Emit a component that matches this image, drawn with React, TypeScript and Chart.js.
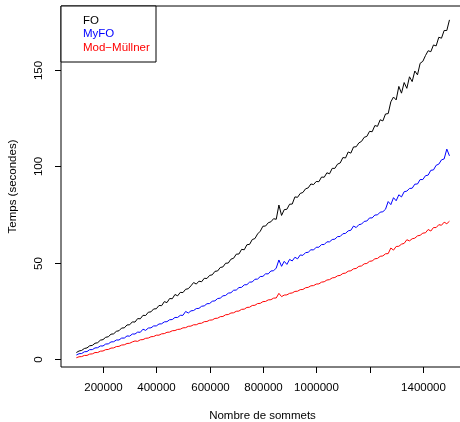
import React, { useEffect, useRef } from "react";
import { Chart, registerables } from "chart.js";

Chart.register(...registerables);

const sommets = [
  100000, 110000, 120000, 130000, 140000, 150000, 160000, 170000, 180000, 190000,
  200000, 210000, 220000, 230000, 240000, 250000, 260000, 270000, 280000, 290000,
  300000, 310000, 320000, 330000, 340000, 350000, 360000, 370000, 380000, 390000,
  400000, 410000, 420000, 430000, 440000, 450000, 460000, 470000, 480000, 490000,
  500000, 510000, 520000, 530000, 540000, 550000, 560000, 570000, 580000, 590000,
  600000, 610000, 620000, 630000, 640000, 650000, 660000, 670000, 680000, 690000,
  700000, 710000, 720000, 730000, 740000, 750000, 760000, 770000, 780000, 790000,
  800000, 810000, 820000, 830000, 840000, 850000, 860000, 870000, 880000, 890000,
  900000, 910000, 920000, 930000, 940000, 950000, 960000, 970000, 980000, 990000,
  1000000, 1010000, 1020000, 1030000, 1040000, 1050000, 1060000, 1070000, 1080000, 1090000,
  1100000, 1110000, 1120000, 1130000, 1140000, 1150000, 1160000, 1170000, 1180000, 1190000,
  1200000, 1210000, 1220000, 1230000, 1240000, 1250000, 1260000, 1270000, 1280000, 1290000,
  1300000, 1310000, 1320000, 1330000, 1340000, 1350000, 1360000, 1370000, 1380000, 1390000,
  1400000, 1410000, 1420000, 1430000, 1440000, 1450000, 1460000, 1470000, 1480000, 1490000,
  1500000,
];

const tempsFO = [
  3.5, 4.3, 4.6, 5.6, 5.9, 7.0, 7.2, 8.3, 8.6, 9.9,
  10.2, 11.4, 11.7, 13.0, 13.2, 14.5, 14.8, 16.2, 16.3, 17.8,
  17.9, 19.4, 19.3, 21.1, 21.0, 22.8, 22.7, 24.4, 24.6, 26.1,
  26.2, 27.9, 27.8, 29.9, 29.4, 31.5, 31.4, 33.6, 32.9, 34.7,
  34.6, 36.3, 36.6, 38.1, 39.8, 39.0, 40.5, 40.2, 42.0, 41.9,
  43.5, 43.8, 45.6, 45.8, 47.6, 47.9, 49.8, 49.9, 51.9, 52.4,
  54.5, 54.6, 57.0, 56.8, 59.4, 59.6, 62.1, 62.6, 65.0, 66.4,
  69.0, 69.1, 70.8, 71.3, 72.9, 72.6, 80.0, 74.6, 77.6, 77.8,
  80.4, 80.5, 84.2, 84.0, 86.0, 86.5, 88.4, 88.9, 90.9, 90.6,
  92.2, 92.1, 94.5, 94.4, 96.7, 96.2, 99.0, 99.0, 101.2, 101.8,
  104.6, 104.4, 107.5, 106.9, 110.1, 110.2, 112.2, 113.0, 115.1, 115.6,
  118.2, 118.0, 121.2, 120.8, 124.2, 123.6, 127.2, 127.4, 133.5, 136.0,
  134.5, 141.5, 138.0, 143.5, 140.5, 146.5, 144.0, 149.5, 147.5, 153.5,
  154.5, 157.5, 160.0, 159.5, 163.0, 162.5, 167.0, 166.5, 170.5, 170.5,
  176.0,
];

const tempsMyFO = [
  2.2, 2.9, 3.0, 3.9, 4.0, 5.0, 5.0, 5.9, 6.0, 6.9,
  6.9, 7.9, 8.0, 9.0, 9.1, 10.0, 10.0, 11.0, 11.0, 12.1,
  12.0, 13.1, 13.1, 14.1, 14.0, 15.6, 15.0, 16.2, 16.3, 17.3,
  17.3, 18.3, 18.4, 19.4, 19.5, 20.5, 20.6, 21.7, 21.7, 22.8,
  22.8, 24.8, 24.0, 25.1, 25.3, 26.3, 26.4, 27.5, 27.7, 28.8,
  28.9, 30.1, 30.3, 31.5, 31.7, 32.9, 33.1, 34.3, 34.5, 35.8,
  35.9, 37.2, 37.3, 38.6, 38.7, 40.0, 40.1, 41.5, 41.6, 42.9,
  43.0, 44.3, 44.3, 45.8, 45.9, 47.3, 51.5, 48.2, 50.8, 49.2,
  51.8, 51.0, 52.9, 52.1, 54.1, 53.9, 55.3, 55.5, 56.8, 56.7,
  58.1, 58.1, 59.5, 59.5, 60.9, 60.9, 62.1, 62.3, 63.6, 63.7,
  65.1, 65.3, 66.6, 66.9, 69.1, 68.3, 69.8, 70.1, 71.5, 71.7,
  73.3, 73.3, 74.8, 74.9, 76.3, 76.5, 77.8, 81.8, 80.2, 83.8,
  82.2, 85.3, 84.2, 86.9, 87.2, 88.6, 88.7, 90.8, 90.9, 93.2,
  93.2, 95.2, 95.5, 98.0, 98.2, 100.6, 101.2, 103.4, 103.9, 109.0,
  105.5,
];

const tempsModMullner = [
  0.8, 1.3, 1.4, 2.0, 2.0, 2.7, 2.8, 3.5, 3.5, 4.2,
  4.3, 5.0, 5.1, 5.8, 5.9, 6.6, 6.7, 7.4, 7.5, 8.2,
  8.3, 9.0, 9.5, 9.3, 10.1, 10.2, 10.9, 11.0, 11.7, 11.8,
  12.5, 12.5, 13.2, 13.3, 14.0, 14.1, 14.8, 14.9, 15.5, 15.6,
  16.3, 16.4, 17.1, 17.2, 17.9, 17.9, 18.6, 18.7, 19.5, 19.6,
  20.3, 20.4, 21.2, 21.3, 22.1, 22.2, 23.1, 23.2, 24.0, 24.1,
  24.9, 25.0, 25.9, 26.0, 26.9, 27.0, 27.9, 28.0, 28.9, 29.0,
  29.9, 30.0, 30.8, 30.9, 31.7, 31.8, 34.2, 32.5, 33.3, 33.4,
  34.2, 34.4, 35.2, 35.3, 36.1, 36.2, 37.1, 37.3, 38.1, 38.2,
  39.0, 39.1, 40.0, 40.2, 41.1, 41.3, 42.2, 42.4, 43.3, 43.5,
  44.5, 44.7, 45.7, 45.9, 46.9, 47.1, 48.2, 48.4, 49.5, 49.7,
  50.8, 51.0, 52.1, 52.3, 53.4, 53.6, 54.7, 54.8, 57.7, 56.6,
  58.5, 58.6, 59.7, 60.1, 62.0, 61.4, 62.5, 62.8, 64.0, 64.3,
  65.4, 65.6, 67.3, 66.5, 68.3, 68.3, 69.8, 69.5, 71.1, 70.3,
  71.6,
];

const seriesNames = ["FO", "MyFO", "Mod\u2212Müllner"];
const seriesColors = ["#000000", "#0000FF", "#FF0000"];
const xTicks = [200000, 400000, 600000, 800000, 1000000, 1200000, 1400000];
const xTickLabels = ["200000", "400000", "600000", "800000", "1000000", "", "1400000"];
const yTicks = [0, 50, 100, 150];
const yTickLabels = ["0", "50", "100", "150"];
const xTitle = "Nombre de sommets";
const yTitle = "Temps (secondes)";

const FONT = '11.5px "Liberation Sans", Arial, Helvetica, sans-serif';

const rPlot = {
  id: "rPlot",
  afterDraw(chart: any) {
    const ctx = chart.ctx as CanvasRenderingContext2D;
    const { left, top, right, bottom } = chart.chartArea;
    const xs = chart.scales.x;
    const ys = chart.scales.y;
    ctx.save();
    ctx.strokeStyle = "#000";
    ctx.lineWidth = 1;
    ctx.beginPath();
    ctx.moveTo(right + 5, top);
    ctx.lineTo(left, top);
    ctx.lineTo(left, bottom);
    ctx.lineTo(right + 5, bottom);
    ctx.stroke();
    ctx.font = FONT;
    ctx.fillStyle = "#000";
    ctx.textAlign = "center";
    ctx.textBaseline = "middle";
    xTicks.forEach((v, i) => {
      const px = Math.round(xs.getPixelForValue(v)) + 0.5;
      ctx.beginPath();
      ctx.moveTo(px, bottom);
      ctx.lineTo(px, bottom + 6);
      ctx.stroke();
      if (xTickLabels[i]) ctx.fillText(xTickLabels[i], px, 388);
    });
    yTicks.forEach((v, i) => {
      const py = Math.round(ys.getPixelForValue(v)) + 0.5;
      ctx.beginPath();
      ctx.moveTo(left - 6, py);
      ctx.lineTo(left, py);
      ctx.stroke();
      ctx.save();
      ctx.translate(39, py);
      ctx.rotate(-Math.PI / 2);
      ctx.fillText(yTickLabels[i], 0, 0);
      ctx.restore();
    });
    ctx.fillText(xTitle, (left + 464) / 2, 416);
    ctx.save();
    ctx.translate(13, (top + bottom) / 2);
    ctx.rotate(-Math.PI / 2);
    ctx.fillText(yTitle, 0, 0);
    ctx.restore();
    ctx.fillStyle = "#fff";
    ctx.fillRect(left, top, 95, 56);
    ctx.beginPath();
    ctx.rect(left, top, 95, 56);
    ctx.stroke();
    ctx.textAlign = "left";
    const ly = [20.5, 34.2, 48];
    seriesNames.forEach((n, i) => {
      ctx.fillStyle = seriesColors[i];
      ctx.fillText(n, 83, ly[i]);
    });
    ctx.restore();
  },
};

export default function App() {
  const ref = useRef<HTMLCanvasElement>(null);
  useEffect(() => {
    if (!ref.current) return;
    const series = [tempsFO, tempsMyFO, tempsModMullner];
    const chart = new Chart(ref.current, {
      type: "line",
      data: {
        datasets: series.map((s, i) => ({
          label: seriesNames[i],
          data: s.map((y, j) => ({ x: sommets[j], y })),
          borderColor: seriesColors[i],
          backgroundColor: seriesColors[i],
          borderWidth: 1,
          pointRadius: 0,
          tension: 0,
          fill: false,
        })),
      },
      options: {
        animation: false,
        responsive: false,
        devicePixelRatio: 1,
        layout: { padding: { left: 61, top: 6, right: 0, bottom: 55 } },
        plugins: { legend: { display: false }, tooltip: { enabled: false } },
        scales: {
          x: { type: "linear", min: 42400, max: 1539500, display: false },
          y: { type: "linear", min: -4, max: 183.2, display: false },
        },
      },
      plugins: [rPlot],
    });
    return () => chart.destroy();
  }, []);
  return (
    <div style={{ position: "fixed", left: 0, top: 0, width: 460, height: 422, overflow: "hidden", background: "#fff" }}>
      <canvas ref={ref} width={460} height={422} style={{ display: "block" }} />
    </div>
  );
}
